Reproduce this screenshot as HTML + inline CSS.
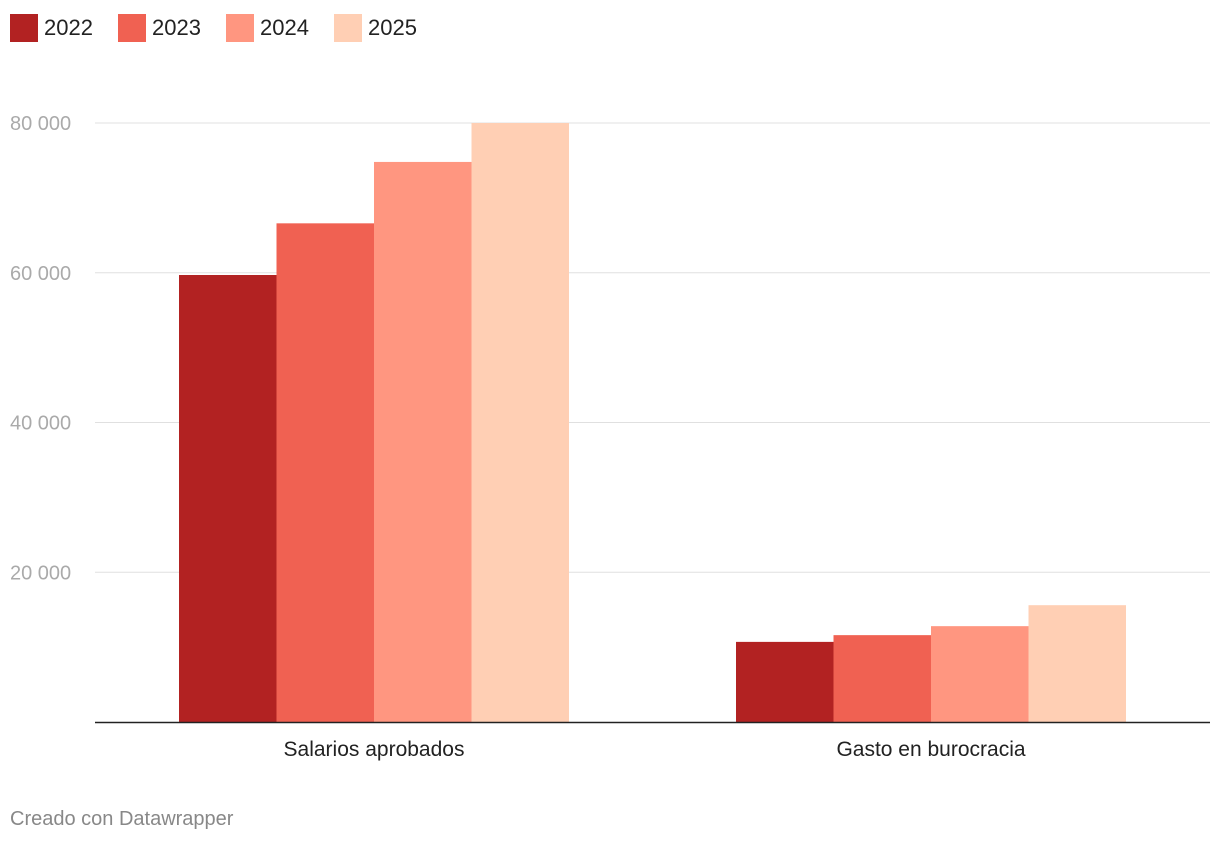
<!DOCTYPE html>
<html><head><meta charset="utf-8">
<style>
body{margin:0;background:#fff;width:1220px;height:844px;overflow:hidden;font-family:"Liberation Sans",Arial,sans-serif;}
.leg{position:absolute;top:14px;height:28px;display:flex;align-items:center;font-size:22px;color:#222;}
.leg span.sw{display:inline-block;width:28px;height:28px;margin-right:6px;}
</style></head><body>
<div style="position:absolute;left:0;top:0;width:500px;height:56px">
<div class="leg" style="left:10px"><span class="sw" style="background:#b22222"></span>2022</div>
<div class="leg" style="left:118px"><span class="sw" style="background:#f06152"></span>2023</div>
<div class="leg" style="left:226px"><span class="sw" style="background:#ff9680"></span>2024</div>
<div class="leg" style="left:334px"><span class="sw" style="background:#ffcfb4"></span>2025</div>
</div>
<svg id="chart" width="1220" height="844" style="position:absolute;left:0;top:0"></svg>
<div style="position:absolute;left:10px;top:808px;font-size:20px;color:#888">Creado con Datawrapper</div>
<script>
const categories=["Salarios aprobados","Gasto en burocracia"];
const seriesNames=["2022","2023","2024","2025"];
const v2022=[59700,10700];
const v2023=[66600,11600];
const v2024=[74800,12800];
const v2025=[80000,15600];
const ticks=[20000,40000,60000,80000];
const tickLabels=["20 000","40 000","60 000","80 000"];
const colors=["#b22222","#f06152","#ff9680","#ffcfb4"];
const svg=document.getElementById('chart');
const NS="http://www.w3.org/2000/svg";
const y0=722,yTop=123,vMax=80000,x0=95,x1=1210;
const y=v=>y0-(v/vMax)*(y0-yTop);
const groupStart=[179,736],bw=97.5;
function mk(t,a){const e=document.createElementNS(NS,t);for(const k in a)e.setAttribute(k,a[k]);svg.appendChild(e);return e;}
ticks.forEach((t,i)=>{
 const l=mk('line',{x1:x0,x2:x1,y1:y(t),y2:y(t),stroke:'#e0e0e0','stroke-width':1});
 
 
 const tx=mk('text',{x:10,y:y(t)+7,'font-size':20,fill:'#aaa','font-family':'Liberation Sans, sans-serif'});
 tx.textContent=tickLabels[i];
 
 
});
const series=[v2022,v2023,v2024,v2025];
categories.forEach((c,ci)=>{
 series.forEach((s,si)=>{
  const r=mk('rect',{x:groupStart[ci]+si*bw,y:y(s[ci]),width:bw,height:y0-y(s[ci]),fill:colors[si]});
  
  
 });
 const t=mk('text',{x:groupStart[ci]+2*bw,y:756,'font-size':21,fill:'#222','text-anchor':'middle','font-family':'Liberation Sans, sans-serif'});
 t.textContent=c;
 
 
});
const ax=mk('line',{x1:x0,x2:x1,y1:y0+0.5,y2:y0+0.5,stroke:'#222','stroke-width':1.5});


</script>
</body></html>
